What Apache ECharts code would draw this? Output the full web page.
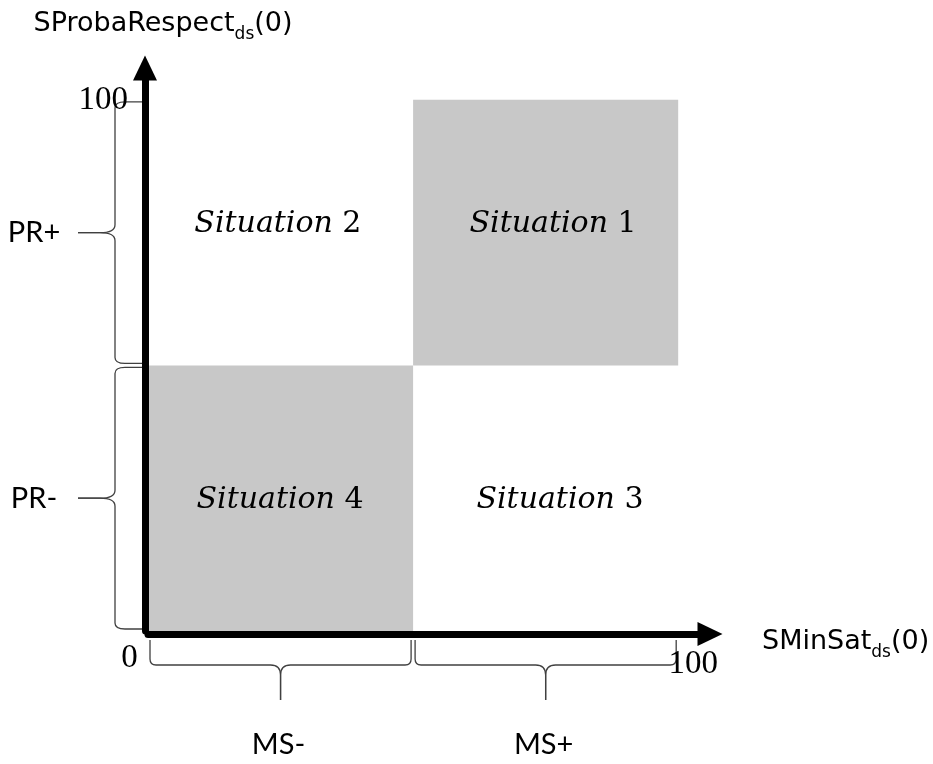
<!DOCTYPE html>
<html><head><meta charset="utf-8">
<script src="https://cdn.jsdelivr.net/npm/echarts@6/dist/echarts.min.js"></script>
<style>html,body{margin:0;padding:0;background:#fff}#c{width:933px;height:764px}</style>
</head><body><div id="c"></div>
<script>
// ---- data ----
const xAxisTitle = ['SMinSat', 'ds', '(0)'];
const yAxisTitle = ['SProbaRespect', 'ds', '(0)'];
const axisMin = 0;
const axisMaxX = 106;
const axisMaxY = 106;
const xTickValues = [0, 100];
const xTickLabels = ['0', '100'];
const yTickValues = [100];
const yTickLabels = ['100'];

const shadedX0 = [0, 50];
const shadedX1 = [50, 100];
const shadedY0 = [0, 50];
const shadedY1 = [50, 100];

const situationWord = 'Situation';
const situationNumbers = ['1', '2', '3', '4'];
const situationX = [76.4, 24.5, 77.7, 24.9];
const situationY = [76.6, 76.6, 24.7, 24.7];

const xBraceStart = [0, 50];
const xBraceEnd = [50, 100];
const xBraceLabels = ['MS-', 'MS+'];
const yBraceStart = [50, 0];
const yBraceEnd = [100, 50];
const yBraceLabels = ['PR+', 'PR-'];

// ---- chart ----
const chart = echarts.init(document.getElementById('c'), null, {renderer: 'canvas'});
const braceColor = '#404040';
const labelFont = 'Lato';
const titleFont = 'DejaVu Sans';

function titleRich() {
  return {
    m: {fontSize: 27, fontFamily: titleFont, color: '#000', lineHeight: 38},
    s: {fontSize: 17, fontFamily: titleFont, color: '#000', lineHeight: 18, verticalAlign: 'bottom'}
  };
}

const shadedData = shadedX0.map((v, i) => [v, shadedX1[i], shadedY0[i], shadedY1[i]]);
const situationData = situationX.map((v, i) => [v, situationY[i], i]);
const xBraceData = xBraceStart.map((v, i) => [v, xBraceEnd[i], i]);
const yBraceData = yBraceStart.map((v, i) => [v, yBraceEnd[i], i]);

const option = {
  backgroundColor: '#fff',
  animation: false,
  grid: {left: 148, top: 68, width: 562, height: 563, containLabel: false, outerBoundsMode: 'none'},
  xAxis: {
    type: 'value', min: axisMin, max: axisMaxX, offset: 3, z: 10,
    name: `{m|${xAxisTitle[0]}}{s|${xAxisTitle[1]}}{m|${xAxisTitle[2]}}`,
    nameLocation: 'end', nameGap: 52,
    nameTextStyle: {align: 'left', verticalAlign: 'middle', padding: [16, 0, 0, 0], rich: titleRich()},
    axisLine: {show: true, onZero: false, symbol: ['none', 'triangle'], symbolSize: [24, 25],
      lineStyle: {color: '#000', width: 7}},
    axisTick: {show: false},
    splitLine: {show: false},
    axisLabel: {
      show: true, customValues: xTickValues, margin: 8,
      formatter: (v) => {
        const i = xTickValues.indexOf(v);
        if (i < 0) return '';
        return (i === 0 ? '{a|' : '{b|') + xTickLabels[i] + '}';
      },
      rich: {
        a: {fontSize: 33, fontFamily: 'Liberation Serif', color: '#000', padding: [0, 37, 0, 0]},
        b: {fontSize: 33, fontFamily: 'Liberation Serif', color: '#000', padding: [6, 0, 0, 30]}
      }
    }
  },
  yAxis: {
    type: 'value', min: axisMin, max: axisMaxY, offset: 3, z: 10,
    name: `{m|${yAxisTitle[0]}}{s|${yAxisTitle[1]}}{m|${yAxisTitle[2]}}`,
    nameLocation: 'end', nameGap: 44,
    nameTextStyle: {align: 'center', verticalAlign: 'middle', padding: [0, 0, 0, 36], rich: titleRich()},
    axisLine: {show: true, onZero: false, symbol: ['none', 'triangle'], symbolSize: [24, 25],
      lineStyle: {color: '#000', width: 7}},
    axisTick: {show: false},
    splitLine: {show: false},
    axisLabel: {
      show: true, customValues: yTickValues, margin: 17,
      fontSize: 33, fontFamily: 'Liberation Serif', color: '#000',
      formatter: (v) => {
        const i = yTickValues.indexOf(v);
        return i < 0 ? '' : yTickLabels[i];
      }
    }
  },
  series: [
    {
      type: 'custom', name: 'shaded', z: 1, silent: true,
      data: shadedData,
      renderItem: (params, api) => {
        const p0 = api.coord([api.value(0), api.value(3)]);
        const p1 = api.coord([api.value(1), api.value(2)]);
        return {type: 'rect', shape: {x: p0[0], y: p0[1], width: p1[0] - p0[0], height: p1[1] - p0[1]},
          style: {fill: '#c8c8c8'}};
      }
    },
    {
      type: 'custom', name: 'situations', z: 3, silent: true,
      data: situationData,
      renderItem: (params, api) => {
        const p = api.coord([api.value(0), api.value(1)]);
        const i = api.value(2);
        return {type: 'text', x: p[0], y: p[1], style: {
          text: `{i|${situationWord}} {n|${situationNumbers[i]}}`,
          align: 'center', verticalAlign: 'middle',
          fontSize: 30, fontFamily: 'DejaVu Serif', fill: '#000',
          rich: {
            i: {fontSize: 30, fontFamily: 'DejaVu Serif', fontStyle: 'italic', fill: '#000'},
            n: {fontSize: 30, fontFamily: 'DejaVu Serif', fill: '#000'}
          }
        }};
      }
    },
    {
      type: 'custom', name: 'xBraces', z: 3, silent: true, clip: false,
      data: xBraceData,
      renderItem: (params, api) => {
        const a = api.coord([api.value(0), 0]);
        const b = api.coord([api.value(1), 0]);
        const i = api.value(2);
        const base = a[1];
        const ye = base + 9, ys = base + 34, yt = base + 69;
        const xa = a[0] + 2, xb = b[0] - 2, xm = (xa + xb) / 2;
        const r = 6, rt = 10;
        const left = `M${xa},${ye} L${xa},${ys - r} Q${xa},${ys} ${xa + r},${ys} L${xm - rt},${ys} Q${xm},${ys} ${xm},${ys + rt} L${xm},${yt}`;
        const right = `M${xb},${ye} L${xb},${ys - r} Q${xb},${ys} ${xb - r},${ys} L${xm + rt},${ys} Q${xm},${ys} ${xm},${ys + rt} L${xm},${yt}`;
        const ls = {stroke: braceColor, lineWidth: 1.3, fill: null};
        return {type: 'group', children: [
          {type: 'path', shape: {pathData: left}, style: ls},
          {type: 'path', shape: {pathData: right}, style: ls},
          {type: 'text', x: xm - 2, y: base + 114, style: {text: xBraceLabels[i], align: 'center', verticalAlign: 'middle',
            fontSize: 29, fontFamily: labelFont, fill: '#000'}}
        ]};
      }
    },
    {
      type: 'custom', name: 'yBraces', z: 3, silent: true, clip: false,
      data: yBraceData,
      renderItem: (params, api) => {
        const bot = api.coord([0, api.value(0)]);
        const top = api.coord([0, api.value(1)]);
        const i = api.value(2);
        const ax = top[0];
        const xs = ax - 33, xe = ax - 6, xt = ax - 70;
        const ya = top[1] + 2, yb = bot[1] - 2, ym = (ya + yb) / 2;
        const rh = 10, rv = 6, th = 15, tv = 8;
        const upper = `M${xe},${ya} L${xs + rh},${ya} Q${xs},${ya} ${xs},${ya + rv} L${xs},${ym - tv} Q${xs},${ym} ${xs - th},${ym} L${xt},${ym}`;
        const lower = `M${xe},${yb} L${xs + rh},${yb} Q${xs},${yb} ${xs},${yb - rv} L${xs},${ym + tv} Q${xs},${ym} ${xs - th},${ym} L${xt},${ym}`;
        const ls = {stroke: braceColor, lineWidth: 1.3, fill: null};
        return {type: 'group', children: [
          {type: 'path', shape: {pathData: upper}, style: ls},
          {type: 'path', shape: {pathData: lower}, style: ls},
          {type: 'text', x: ax - 114, y: ym, style: {text: yBraceLabels[i], align: 'center', verticalAlign: 'middle',
            fontSize: 29, fontFamily: labelFont, fill: '#000'}}
        ]};
      }
    }
  ]
};
chart.setOption(option);
</script>
</body></html>
